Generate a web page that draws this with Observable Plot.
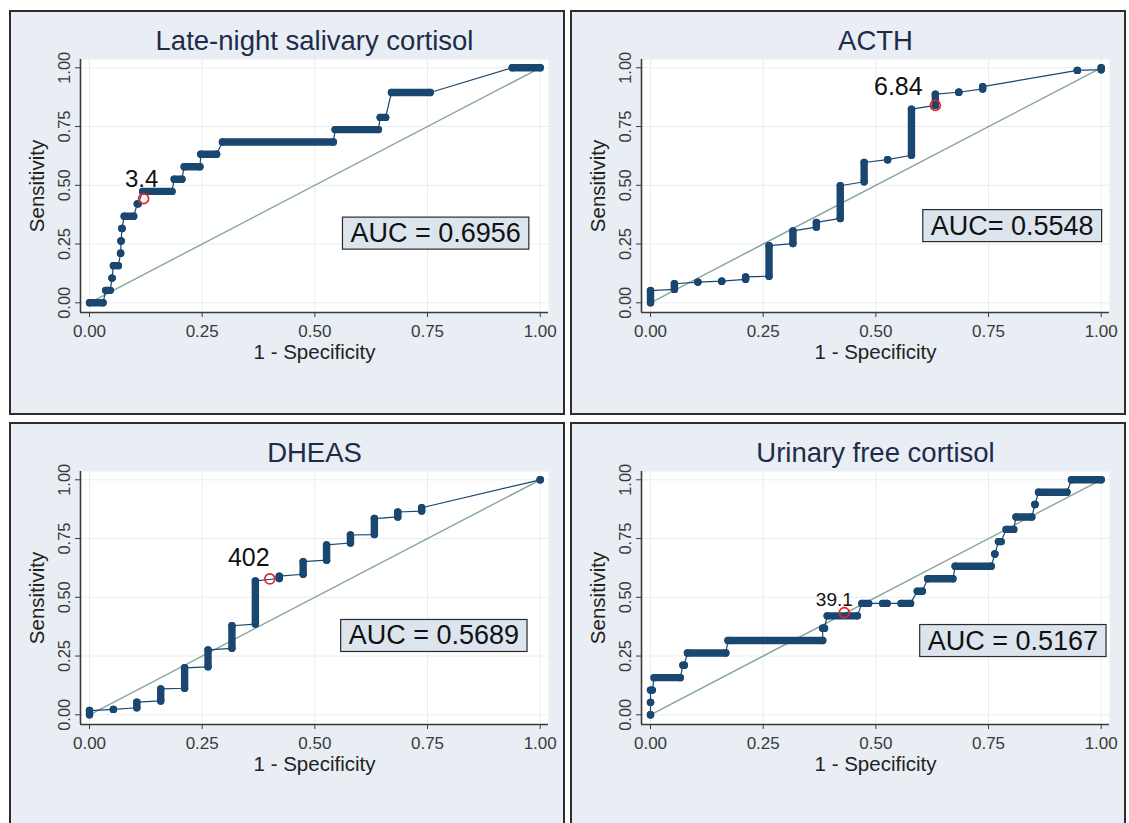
<!DOCTYPE html>
<html><head><meta charset="utf-8">
<script src="https://cdn.jsdelivr.net/npm/d3@7"></script>
<script src="https://cdn.jsdelivr.net/npm/@observablehq/plot@0.6"></script>
<style>
 html,body{margin:0;padding:0;background:#fff;overflow:hidden}
 #root{position:relative;width:1129px;height:823px;overflow:hidden;background:#fff}
 .panel{position:absolute;width:556px;height:405px;box-sizing:border-box;border:2px solid #2d2d2d;background:#e8eef3;overflow:hidden}
 .panel svg{position:absolute;left:0;top:0}
</style></head><body><div id="root"></div>
<script>
// ---------- data ----------
const panelTitles = ["Late-night salivary cortisol", "ACTH", "DHEAS", "Urinary free cortisol"];
const aucLabels = ["AUC = 0.6956", "AUC= 0.5548", "AUC = 0.5689", "AUC = 0.5167"];
const cutoffLabels = ["3.4", "6.84", "402", "39.1"];
const cutoffFpr = [0.120, 0.632, 0.400, 0.430];
const cutoffSens = [0.443, 0.840, 0.578, 0.435];
const axisTicks = [0, 0.25, 0.5, 0.75, 1];
const refLine = [0, 1];
const xAxisTitle = "1 - Specificity";
const yAxisTitle = "Sensitivity";

// marker runs: [fpr start, sens start, fpr end, sens end]
const lnscRuns = [
  [0.000, 0.000, 0.030, 0.000],
  [0.036, 0.053, 0.046, 0.053],
  [0.050, 0.105, 0.050, 0.105],
  [0.053, 0.158, 0.064, 0.158],
  [0.069, 0.211, 0.069, 0.211],
  [0.070, 0.263, 0.070, 0.263],
  [0.072, 0.316, 0.072, 0.316],
  [0.077, 0.368, 0.098, 0.368],
  [0.106, 0.421, 0.108, 0.421],
  [0.118, 0.474, 0.183, 0.474],
  [0.188, 0.526, 0.205, 0.526],
  [0.210, 0.579, 0.245, 0.579],
  [0.247, 0.632, 0.282, 0.632],
  [0.295, 0.684, 0.541, 0.684],
  [0.545, 0.737, 0.641, 0.737],
  [0.645, 0.789, 0.657, 0.789],
  [0.670, 0.895, 0.756, 0.895],
  [0.938, 1.000, 1.000, 1.000]
];
const acthRuns = [
  [0.000, 0.000, 0.000, 0.052],
  [0.053, 0.057, 0.053, 0.081],
  [0.105, 0.088, 0.105, 0.088],
  [0.158, 0.092, 0.158, 0.092],
  [0.211, 0.100, 0.211, 0.110],
  [0.263, 0.113, 0.263, 0.243],
  [0.316, 0.252, 0.316, 0.306],
  [0.368, 0.322, 0.368, 0.342],
  [0.421, 0.359, 0.421, 0.498],
  [0.474, 0.515, 0.474, 0.597],
  [0.526, 0.609, 0.526, 0.609],
  [0.579, 0.628, 0.579, 0.824],
  [0.632, 0.840, 0.632, 0.888],
  [0.684, 0.896, 0.684, 0.896],
  [0.737, 0.910, 0.737, 0.920],
  [0.947, 0.989, 0.947, 0.989],
  [1.000, 0.992, 1.000, 1.000]
];
const dheasRuns = [
  [0.000, 0.000, 0.000, 0.018],
  [0.053, 0.023, 0.053, 0.023],
  [0.105, 0.030, 0.105, 0.054],
  [0.158, 0.059, 0.158, 0.110],
  [0.211, 0.113, 0.211, 0.200],
  [0.263, 0.204, 0.263, 0.276],
  [0.316, 0.283, 0.316, 0.379],
  [0.368, 0.386, 0.368, 0.570],
  [0.421, 0.580, 0.421, 0.590],
  [0.474, 0.598, 0.474, 0.652],
  [0.526, 0.658, 0.526, 0.723],
  [0.579, 0.731, 0.579, 0.765],
  [0.632, 0.767, 0.632, 0.835],
  [0.684, 0.842, 0.684, 0.863],
  [0.737, 0.867, 0.737, 0.881],
  [1.000, 1.000, 1.000, 1.000]
];
const ufcRuns = [
  [0.000, 0.000, 0.000, 0.000],
  [0.000, 0.053, 0.000, 0.053],
  [0.000, 0.105, 0.004, 0.105],
  [0.008, 0.158, 0.066, 0.158],
  [0.072, 0.211, 0.075, 0.211],
  [0.082, 0.263, 0.167, 0.263],
  [0.172, 0.316, 0.382, 0.316],
  [0.382, 0.368, 0.386, 0.368],
  [0.392, 0.421, 0.459, 0.421],
  [0.469, 0.474, 0.484, 0.474],
  [0.515, 0.474, 0.525, 0.474],
  [0.556, 0.474, 0.577, 0.474],
  [0.592, 0.526, 0.603, 0.526],
  [0.615, 0.579, 0.671, 0.579],
  [0.676, 0.632, 0.756, 0.632],
  [0.764, 0.684, 0.764, 0.684],
  [0.772, 0.737, 0.778, 0.737],
  [0.789, 0.789, 0.806, 0.789],
  [0.811, 0.842, 0.846, 0.842],
  [0.853, 0.895, 0.853, 0.895],
  [0.861, 0.947, 0.924, 0.947],
  [0.934, 1.000, 1.000, 1.000]
];
const allRuns = [lnscRuns, acthRuns, dheasRuns, ufcRuns];

// ---------- layout & style ----------
const FONT = '"Liberation Sans", Arial, Helvetica, sans-serif';
const NAVY = "#1a476f", RED = "#e0262b", REF = "#87a59c", GRID = "#e8edf1";
const AXISC = "#3a3a3a", TITLE = "#1e2b4a";
const X_DOMAIN = [-0.02, 1.0184];
const Y_DOMAIN = [-0.0413, 1.0353];
const panelPos = [[9, 10], [570, 10], [9, 422], [570, 422]];
const aucPos = [[0.768, 0.295], [0.8025, 0.327], [0.764, 0.336], [0.804, 0.3145]];
const labelStyle = [
  {dx: -2, dy: -19, size: 24},
  {dx: -37, dy: -18, size: 25},
  {dx: -21, dy: -21, size: 25},
  {dx: -10, dy: -13, size: 19}
];
const fmt = d3.format(".2f");
const root = document.getElementById("root");
const MID = {textAnchor: "middle", lineAnchor: "middle"};

function drawPanel(i) {
  const runs = allRuns[i];
  const pts = runs.flatMap(r => [{x: r[0], y: r[1]}, {x: r[2], y: r[3]}]);
  const cut = {x: cutoffFpr[i], y: cutoffSens[i], label: cutoffLabels[i]};
  const ls = labelStyle[i];
  const auc = {x: aucPos[i][0], y: aucPos[i][1], t: aucLabels[i]};
  const div = document.createElement("div");
  div.className = "panel";
  div.style.left = panelPos[i][0] + "px";
  div.style.top = panelPos[i][1] + "px";
  root.appendChild(div);
  const svg = Plot.plot({
    width: 552, height: 401,
    marginLeft: 69, marginRight: 15, marginTop: 47, marginBottom: 101,
    x: {domain: X_DOMAIN}, y: {domain: Y_DOMAIN},
    style: {background: "transparent", color: AXISC, fontFamily: FONT, overflow: "visible"},
    marks: [
      Plot.frame({fill: "white", stroke: "none"}),
      Plot.gridX(axisTicks, {stroke: GRID, strokeOpacity: 1}),
      Plot.gridY(axisTicks, {stroke: GRID, strokeOpacity: 1}),
      Plot.ruleX([X_DOMAIN[0]], {stroke: AXISC, strokeWidth: 1.6}),
      Plot.ruleY([Y_DOMAIN[0]], {stroke: AXISC, strokeWidth: 1.6}),
      Plot.axisX(axisTicks, {tickSize: 5, tickPadding: 7, tickFormat: fmt, fontSize: 17, label: null}),
      Plot.axisY(axisTicks, {tickSize: 5, tickRotate: -90, tickPadding: 6, tickFormat: fmt, fontSize: 16.5, label: null}),
      Plot.line(refLine.map(v => ({x: v, y: v})), {x: "x", y: "y", stroke: REF, strokeWidth: 1.4}),
      Plot.line(pts, {x: "x", y: "y", stroke: NAVY, strokeWidth: 1.2}),
      Plot.link(runs, {x1: r => r[0], y1: r => r[1], x2: r => r[2], y2: r => r[3], stroke: NAVY, strokeWidth: 7.4, strokeLinecap: "round"}),
      Plot.dot(pts, {x: "x", y: "y", r: 3.7, fill: NAVY}),
      Plot.dot([cut], {x: "x", y: "y", r: 5, stroke: RED, strokeWidth: 1.7, fill: "none"}),
      Plot.text([cut], {x: "x", y: "y", text: "label", dx: ls.dx, dy: ls.dy, fontSize: ls.size, fill: "#111", ...MID}),
      Plot.text([panelTitles[i]], {text: d => d, frameAnchor: "top", dy: -18, fontSize: 27.5, fill: TITLE, ...MID}),
      Plot.text([yAxisTitle], {text: d => d, frameAnchor: "left", rotate: -90, dx: -43, fontSize: 20.5, fill: "#222", ...MID}),
      Plot.text([xAxisTitle], {text: d => d, frameAnchor: "bottom", dy: 40, fontSize: 20.5, fill: "#222", ...MID}),
      Plot.text([auc], {x: "x", y: "y", text: "t", fontSize: 27, fill: "#111", ...MID})
    ]
  });
  div.appendChild(svg);
  // box behind the AUC annotation
  const sb = svg.getBoundingClientRect();
  for (const t of svg.querySelectorAll("text")) {
    if (!t.textContent.startsWith("AUC")) continue;
    const tb = t.getBoundingClientRect();
    const padX = 8, padY = 1;
    const rect = document.createElementNS("http://www.w3.org/2000/svg", "rect");
    rect.setAttribute("x", tb.left - sb.left - padX);
    rect.setAttribute("y", tb.top - sb.top - padY);
    rect.setAttribute("width", tb.width + 2 * padX);
    rect.setAttribute("height", tb.height + 2 * padY);
    rect.setAttribute("fill", "#dce5ed");
    rect.setAttribute("stroke", "#2b2b2b");
    rect.setAttribute("stroke-width", "1.2");
    let g = t;
    while (g.parentNode !== svg) g = g.parentNode;
    svg.insertBefore(rect, g);
  }
}
for (let i = 0; i < 4; i++) drawPanel(i);
</script></body></html>
